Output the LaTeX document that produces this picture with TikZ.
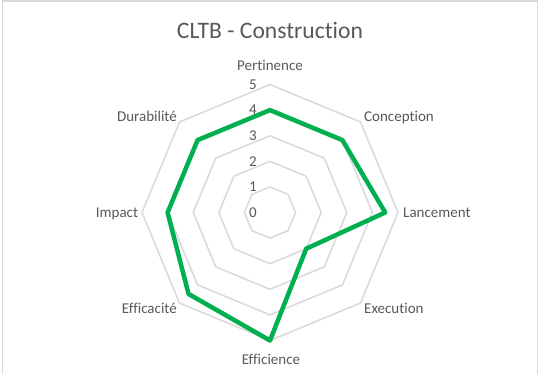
\documentclass[tikz,border=0pt]{standalone}
\usepackage{fontspec}
\setmainfont{Carlito}[Ligatures={NoCommon,NoContextual},Contextuals={NoAlternate},RawFeature={-liga}]
\definecolor{txt}{HTML}{595959}
\definecolor{gridc}{HTML}{D9D9D9}
\definecolor{serie}{HTML}{00B050}
\begin{document}
\begin{tikzpicture}[x=1pt,y=-1pt,
  lbl/.style={text=txt,font=\fontsize{15}{18}\selectfont,inner sep=0pt},
  ttl/.style={text=txt,font=\fontsize{23.6}{28}\selectfont,inner sep=0pt},
  ring/.style={draw=gridc,line width=1.5pt,line join=round},
  frame/.style={draw=gridc,line width=1.5pt},
  datal/.style={draw=serie,line width=4.5pt,line join=round}]
\useasboundingbox (0,0) rectangle (540,374);
\fill[white] (0,0) rectangle (540,374);
\draw[frame] (2.5,385) -- (2.5,1.2) -- (537.5,1.2) -- (537.5,385);
\node[ttl,anchor=base] (title) at (270,38.3) {CLTB - Construction};
\begin{scope}[shift={(270,212.5)},y=1pt]
  \def\u{25.6}
  \foreach \k in {1,...,5}{
    \draw[ring] (90:\k*\u) -- (45:\k*\u) -- (0:\k*\u) -- (-45:\k*\u) -- (-90:\k*\u) -- (-135:\k*\u) -- (180:\k*\u) -- (135:\k*\u) -- cycle;
  }
  \foreach \k in {0,...,5}{
    \node[lbl,anchor=east] (s\k) at (-13,\k*\u) {\k};
  }
  \draw[datal] (90:4*\u) -- (45:4*\u) -- (0:4.5*\u) -- (-45:2*\u) -- (-90:5*\u) -- (-135:4.5*\u) -- (180:4*\u) -- (135:4*\u) -- cycle;
\end{scope}
\node[lbl,anchor=base] (pert) at (270,70.7) {Pertinence};
\node[lbl,anchor=base west] (conc) at (364,121.5) {Conception};
\node[lbl,anchor=base west] (lanc) at (403,217) {Lancement};
\node[lbl,anchor=base west] (exec) at (364,313) {Execution};
\node[lbl,anchor=base] (effi) at (271,364) {Efficience};
\node[lbl,anchor=base east] (effa) at (177,313) {Efficacité};
\node[lbl,anchor=base east] (imp) at (138.3,217) {Impact};
\node[lbl,anchor=base east] (dura) at (177,121.5) {Durabilité};
\end{tikzpicture}
\end{document}
